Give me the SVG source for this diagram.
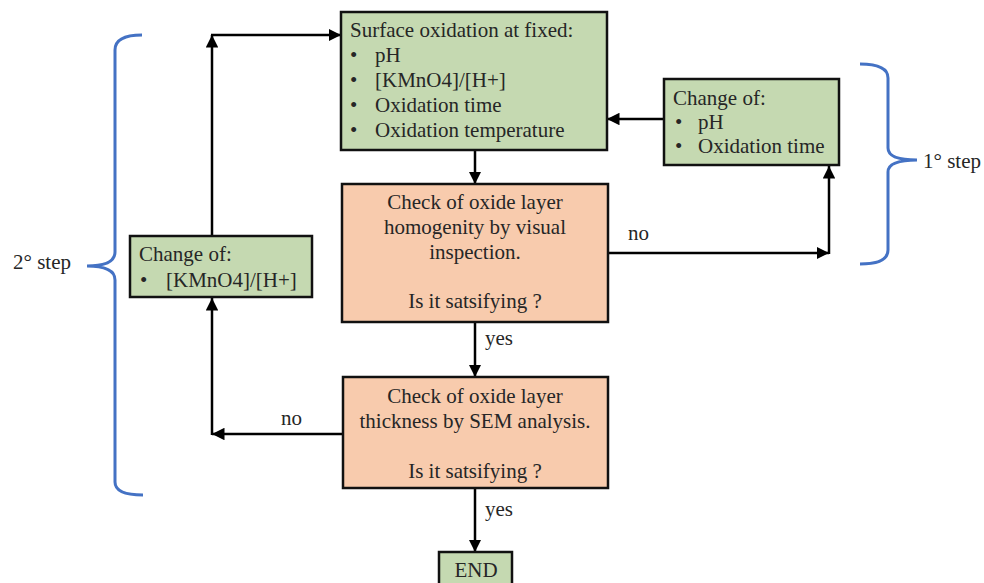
<svg xmlns="http://www.w3.org/2000/svg" width="984" height="583" viewBox="0 0 984 583">
<style>
text{font-family:"Liberation Serif","Times New Roman",serif;font-size:21px;fill:#262626}
.c{text-anchor:middle}
.g{fill:#c5d9b1;stroke:#111;stroke-width:2.5}
.o{fill:#f8cbad;stroke:#111;stroke-width:2.5}
.ln{fill:none;stroke:#000;stroke-width:2.5}
.br{fill:none;stroke:#4472c4;stroke-width:3}
</style>
<defs>
<marker id="ah" viewBox="0 0 10 10" refX="10" refY="5" markerWidth="5" markerHeight="5" markerUnits="strokeWidth" orient="auto">
<path d="M0,0 L10,5 L0,10 z" fill="#000"/>
</marker>
</defs>
<rect width="984" height="583" fill="#fff"/>
<g id="connectors">
<path class="ln" d="M475,150 V184" marker-end="url(#ah)"/>
<path class="ln" d="M475,322 V377" marker-end="url(#ah)"/>
<path class="ln" d="M475,488 V552" marker-end="url(#ah)"/>
<path class="ln" d="M608,253 H829" marker-end="url(#ah)"/>
<path class="ln" d="M829,254 V166" marker-end="url(#ah)"/>
<path class="ln" d="M664,119 H607" marker-end="url(#ah)"/>
<path class="ln" d="M343,434 H212" marker-end="url(#ah)"/>
<path class="ln" d="M212,435 V298" marker-end="url(#ah)"/>
<path class="ln" d="M212,236 V35" marker-end="url(#ah)"/>
<path class="ln" d="M211,35 H341" marker-end="url(#ah)"/>
<text x="485" y="345">yes</text>
<text x="485" y="516">yes</text>
<text x="628" y="240">no</text>
<text x="281" y="425">no</text>
</g>
<g id="brace1">
<path class="br" d="M860,64 Q888,64 888,78 L888,148 Q888,160 917,160 Q888,160 888,172 L888,250 Q888,264 860,264"/>
<text x="923" y="168">1° step</text>
</g>
<g id="brace2">
<path class="br" d="M142,35 Q115,35 115,50 L115,252 Q115,266 87,266 Q115,266 115,280 L115,482 Q115,495 143,495"/>
<text x="13" y="269">2° step</text>
</g>
<g id="surface">
<rect class="g" x="341" y="12" width="266" height="138"/>
<text x="350" y="37">Surface oxidation at fixed:</text>
<text x="350" y="62">•</text><text x="375" y="62">pH</text>
<text x="350" y="87">•</text><text x="375" y="87">[KMnO4]/[H+]</text>
<text x="350" y="112">•</text><text x="375" y="112">Oxidation time</text>
<text x="350" y="137">•</text><text x="375" y="137">Oxidation temperature</text>
</g>
<g id="change1">
<rect class="g" x="664" y="79" width="175" height="86"/>
<text x="673" y="105">Change of:</text>
<text x="675" y="129">•</text><text x="698" y="129">pH</text>
<text x="675" y="153">•</text><text x="698" y="153">Oxidation time</text>
</g>
<g id="change2">
<rect class="g" x="130" y="236" width="182" height="61"/>
<text x="139" y="261">Change of:</text>
<text x="140" y="287">•</text><text x="166" y="287">[KMnO4]/[H+]</text>
</g>
<g id="check1">
<rect class="o" x="342" y="184" width="266" height="138"/>
<text class="c" x="475" y="209">Check of oxide layer</text>
<text class="c" x="475" y="234">homogenity by visual</text>
<text class="c" x="475" y="259">inspection.</text>
<text class="c" x="475" y="308">Is it satsifying ?</text>
</g>
<g id="check2">
<rect class="o" x="343" y="377" width="265" height="111"/>
<text class="c" x="475" y="403">Check of oxide layer</text>
<text class="c" x="475" y="428">thickness by SEM analysis.</text>
<text class="c" x="475" y="478">Is it satsifying ?</text>
</g>
<g id="end">
<rect class="g" x="439" y="552" width="73" height="40"/>
<text class="c" x="476" y="577">END</text>
</g>
</svg>
